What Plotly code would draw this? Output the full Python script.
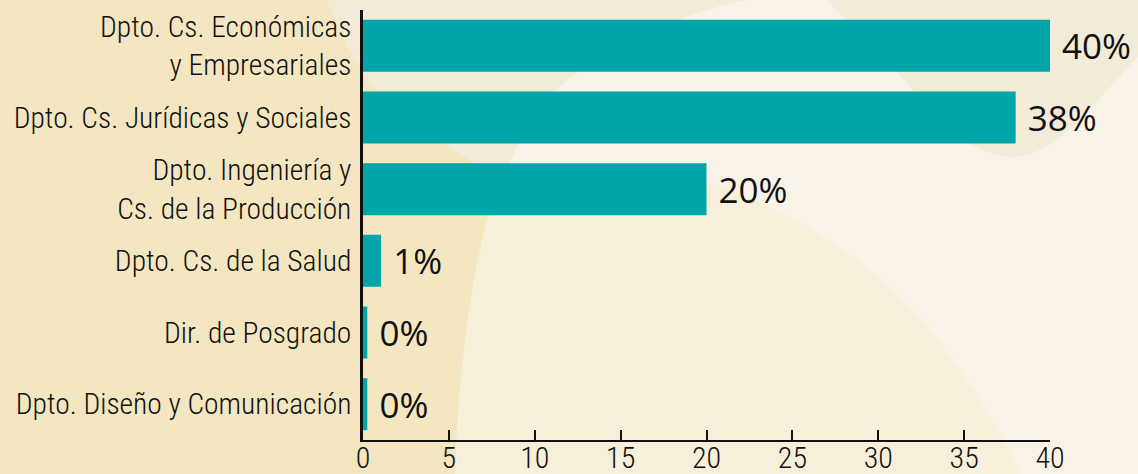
import plotly.graph_objects as go

# ---- data ----
categories = [
    "Dpto. Cs. Económicas<br>y Empresariales",
    "Dpto. Cs. Jurídicas y Sociales",
    "Dpto. Ingeniería y<br>Cs. de la Producción",
    "Dpto. Cs. de la Salud",
    "Dir. de Posgrado",
    "Dpto. Diseño y Comunicación",
]
values = [40.0, 38.0, 20.0, 1.05, 0.25, 0.25]
value_labels = ["40%", "38%", "20%", "1%", "0%", "0%"]
x_ticks = [0, 5, 10, 15, 20, 25, 30, 35, 40]

# ---- layout geometry (pixels) ----
W, H = 1138, 474
ML, MR, MT, MB = 363, 88, 10, 34
PW, PH = W - ML - MR, H - MT - MB


def px_path(cmds):
    """Convert a pixel-space path (list of (cmd, [x,y,...])) into paper coords."""
    out = []
    for cmd, pts in cmds:
        coords = []
        for i in range(0, len(pts), 2):
            xp = (pts[i] - ML) / PW
            yp = (H - MB - pts[i + 1]) / PH
            coords.append(f"{xp:.4f},{yp:.4f}")
        out.append(cmd + " " + " ".join(coords))
    return " ".join(out) + " Z"


BG_GRAY = "#F2EBD7"
BG_LIGHT = "#F8F2E7"
BG_MID = "#F6EFD9"
BG_DARK = "#F3E6C0"

shapes = []
shapes.append(dict(type="path", xref="paper", yref="paper", layer="below",
                   line=dict(width=0), fillcolor=BG_LIGHT,
                   path=px_path([("M", [505, 185]),
                                 ("C", [508, 150, 540, 100, 577, 72]),
                                 ("C", [620, 40, 680, 15, 745, 0]),
                                 ("L", [1138, 0]), ("L", [1138, 474]),
                                 ("L", [505, 474])])))
shapes.append(dict(type="path", xref="paper", yref="paper", layer="below",
                   line=dict(width=0), fillcolor=BG_GRAY,
                   path=px_path([("M", [827, 0]),
                                 ("C", [850, 25, 880, 55, 900, 75]),
                                 ("C", [930, 110, 960, 152, 1010, 157]),
                                 ("C", [1055, 160, 1100, 95, 1138, 57]),
                                 ("L", [1138, 0])])))
shapes.append(dict(type="path", xref="paper", yref="paper", layer="below",
                   line=dict(width=0), fillcolor=BG_MID,
                   path=px_path([("M", [455, 474]),
                                 ("C", [458, 380, 470, 260, 500, 178]),
                                 ("C", [560, 160, 650, 165, 700, 180]),
                                 ("C", [800, 210, 880, 270, 930, 330]),
                                 ("C", [970, 380, 1000, 430, 1020, 474])])))
shapes.append(dict(type="path", xref="paper", yref="paper", layer="below",
                   line=dict(width=0), fillcolor=BG_DARK,
                   path=px_path([("M", [0, 0]), ("L", [327, 0]),
                                 ("C", [340, 35, 360, 75, 385, 100]),
                                 ("C", [420, 130, 460, 155, 500, 178]),
                                 ("C", [470, 260, 458, 380, 455, 474]),
                                 ("L", [0, 474])])))

fig = go.Figure()
fig.add_trace(go.Bar(
    y=categories,
    x=values,
    orientation="h",
    marker=dict(color="#02A6A8", line=dict(width=0)),
    text=value_labels,
    texttemplate="\u00a0%{text}",
    textposition="outside",
    textfont=dict(family="Open Sans, Noto Sans, sans-serif", size=35, color="#111111"),
    cliponaxis=False,
    constraintext="none",
    hoverinfo="skip",
))

cond_font = "Roboto Condensed, Liberation Sans Narrow, DejaVu Sans Condensed, sans-serif"

fig.update_layout(
    width=W, height=H,
    margin=dict(l=ML, r=MR, t=MT, b=MB, pad=0, autoexpand=False),
    paper_bgcolor=BG_GRAY,
    plot_bgcolor="rgba(0,0,0,0)",
    bargap=0.274,
    showlegend=False,
    shapes=shapes,
    xaxis=dict(
        range=[0, 40],
        automargin=False,
        tickmode="array",
        tickvals=x_ticks,
        ticktext=[str(t) for t in x_ticks],
        ticks="inside",
        ticklen=10,
        tickwidth=2,
        tickcolor="#111111",
        showline=True,
        linecolor="#111111",
        linewidth=2,
        showgrid=False,
        zeroline=False,
        ticklabelstandoff=-10,
        tickfont=dict(family=cond_font, size=30, color="#111111", weight=300),
    ),
    yaxis=dict(
        autorange="reversed",
        automargin=False,
        showline=True,
        linecolor="#111111",
        linewidth=2.5,
        showgrid=False,
        zeroline=False,
        ticks="",
        layer="below traces",
        ticklabelstandoff=3,
        tickfont=dict(family=cond_font, size=29.5, color="#111111", weight=300),
    ),
)

fig.write_html(
    "out.html",
    config={"displayModeBar": False},
    post_script="document.body.style.margin='0';document.body.style.padding='0';"
                "document.documentElement.style.overflow='hidden';",
)
